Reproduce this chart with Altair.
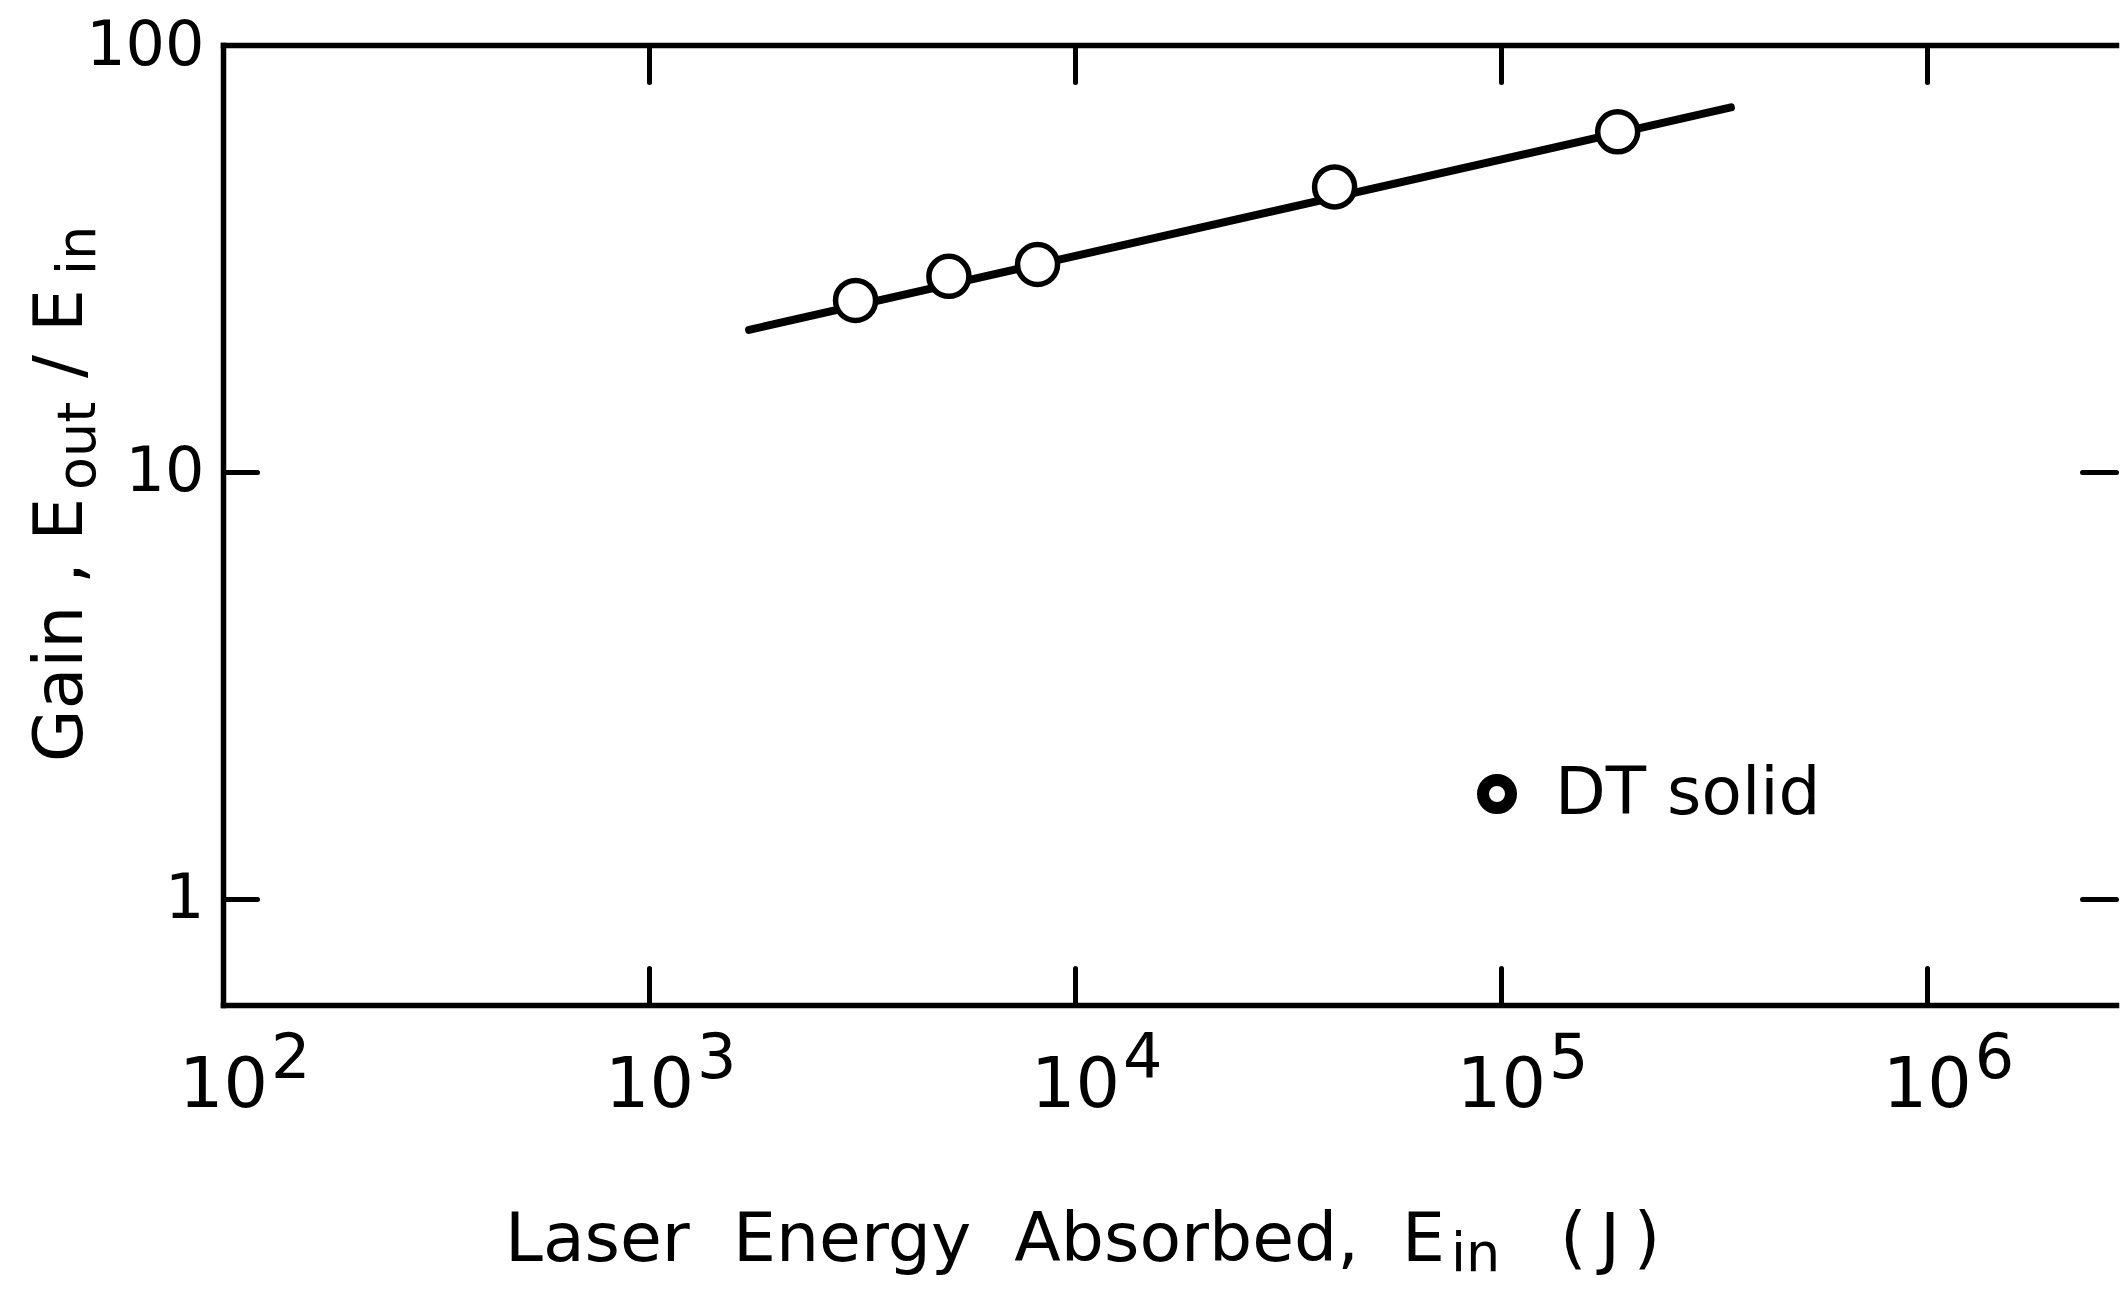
import altair as alt
import pandas as pd

# ---- data ----
decades = [1e2, 1e3, 1e4, 1e5, 1e6]
exponents = ["2", "3", "4", "5", "6"]
gain_ticks = [1, 10, 100]

ein_points = [3055, 5060, 8170, 40700, 188000]
gain_points = [25.2, 28.7, 30.6, 46.5, 62.6]
fit_ein = [1718, 346700]
fit_gain = [21.5, 71.4]
series_name = "DT solid"

X_DOMAIN = [100, 2.78e6]
Y_DOMAIN = [0.563, 100]

NB = "\u00a0"
# axis titles, split where the subscripts are
x_title_parts = ["Laser" + NB * 2 + "Energy" + NB * 2 + "Absorbed," + NB * 2 + "E", "in",
                 "(\u2009J\u2009)"]
y_title_parts = ["Gain" + NB + "," + NB + "E", "out", "/", "E", "in"]

W, H = 1893, 960
FONT = "DejaVu Sans"
INK = "black"
BIG, SMALL = 68, 54

pts_df = pd.DataFrame({"ein": ein_points, "gain": gain_points,
                       "series": [series_name] * len(ein_points)})
fit_df = pd.DataFrame({"ein": fit_ein, "gain": fit_gain})
exp_df = pd.DataFrame({"decade": decades, "exp": exponents})

xs = alt.Scale(type="log", domain=X_DOMAIN, nice=False)
ys = alt.Scale(type="log", domain=Y_DOMAIN, nice=False)

common = dict(grid=False, tickColor=INK, domainColor=INK, labelColor=INK)

line = alt.Chart(fit_df).mark_line(color=INK, strokeWidth=8, strokeCap="round").encode(
    x=alt.X("ein:Q", scale=xs, axis=alt.Axis(
        orient="bottom", values=decades, labelExpr="'10'", ticks=False, tickSize=0,
        domain=True, domainWidth=5.5, domainCap="square",
        labelFont=FONT, labelFontSize=70, labelPadding=46, labelFlush=False,
        labelOverlap=False, labelBaseline="top", title=None, **common)),
    y=alt.Y("gain:Q", scale=ys, axis=alt.Axis(
        orient="left", values=gain_ticks, labelExpr="format(datum.value, 'd')",
        ticks=False, tickSize=0, domain=True, domainWidth=5.5, domainCap="square",
        labelFont=FONT, labelFontSize=62, labelPadding=19, labelOverlap=False,
        title=None, **common)),
)

points = alt.Chart(pts_df).mark_point(
    shape="circle", filled=False, fill="white", stroke=INK, strokeWidth=5.5,
    size=1600, opacity=1, fillOpacity=1).encode(
    x=alt.X("ein:Q", scale=xs, axis=alt.Axis(
        orient="top", offset=-H, values=decades, labels=False, ticks=True,
        tickSize=37, tickWidth=5, tickCap="round", domain=False, title=None, **common)),
    y=alt.Y("gain:Q", scale=ys, axis=alt.Axis(
        orient="right", offset=-W, values=gain_ticks, labels=False, ticks=True,
        tickSize=34, tickWidth=5, tickCap="round", domain=False, title=None, **common)),
    stroke=alt.Stroke("series:N", scale=alt.Scale(range=[INK]), legend=alt.Legend(
        title=None, orient="none", legendX=1241, legendY=716, padding=0,
        labelFont=FONT, labelFontSize=66, labelColor=INK, labelOffset=25,
        labelLimit=600, symbolSize=784, symbolStrokeWidth=12,
        symbolStrokeColor=INK, symbolType="circle")),
)

expo = alt.Chart(exp_df).mark_text(
    align="left", baseline="alphabetic", dx=48, dy=73, fontSize=62, font=FONT,
    color=INK).encode(
    x=alt.X("decade:Q", scale=xs, axis=alt.Axis(
        orient="bottom", offset=-H, values=decades, labels=False, ticks=True,
        tickSize=37, tickWidth=5, tickCap="round", domain=True, domainWidth=5.5,
        domainCap="square", title=None, **common)),
    y=alt.YDatum(Y_DOMAIN[0], type="quantitative", scale=ys, axis=alt.Axis(
        orient="left", offset=-W, values=gain_ticks, labels=False, ticks=True,
        tickSize=34, tickWidth=5, tickCap="round", domain=False, title=None, **common)),
    text="exp:N",
)


def title_piece(text, x, y, size, align="left", angle=0):
    kw = dict(align=align, baseline="alphabetic", font=FONT, fontSize=size, color=INK)
    if angle:
        kw["angle"] = angle
    return alt.Chart(pd.DataFrame({"t": [text]})).mark_text(**kw).encode(
        text="t:N", x=alt.value(x), y=alt.value(y))


x_title = [
    title_piece(x_title_parts[0], 1222, 1216, BIG, align="right"),
    title_piece(x_title_parts[1], 1228, 1226, SMALL),
    title_piece(x_title_parts[2], 1337, 1216, BIG),
]
y_title = [
    title_piece(y_title_parts[0], -141, 717, BIG, angle=270),
    title_piece(y_title_parts[1], -128, 445, SMALL, angle=270),
    title_piece(y_title_parts[2], -141, 333, BIG, angle=270),
    title_piece(y_title_parts[3], -141, 287, BIG, angle=270),
    title_piece(y_title_parts[4], -128, 230, SMALL, angle=270),
]

chart = alt.layer(line, points, expo, *x_title, *y_title).resolve_axis(
    x="independent", y="independent"
).properties(
    width=W, height=H,
    padding={"left": 215, "top": 37, "right": 4, "bottom": 279},
    autosize=alt.AutoSizeParams(type="none"),
    background="white",
).configure_view(stroke=None)

chart.save("out.html", embed_options={"renderer": "svg", "actions": False})
